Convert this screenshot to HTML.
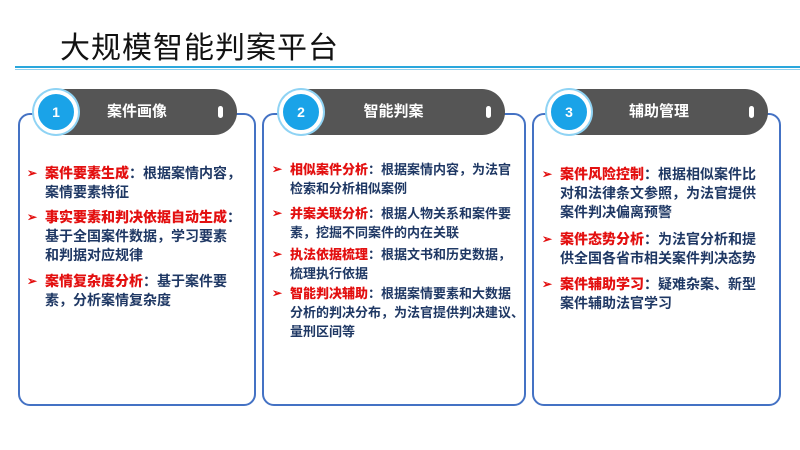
<!DOCTYPE html>
<html><head><meta charset="utf-8"><style>
body{margin:0;width:800px;height:450px;background:#fff;position:relative;overflow:hidden;font-family:"Liberation Sans","Noto Sans CJK SC",sans-serif}
.a{position:absolute}
.title{left:60px;top:23px;font-size:30px;color:#111;font-weight:400;letter-spacing:1px}
.panel{position:absolute;border:2.5px solid #4472c4;border-radius:12px;box-sizing:border-box}
.pill{position:absolute;height:46px;background:#555;border-radius:23px;color:#fff;font-weight:bold;font-size:15px;line-height:46px;text-align:center}
.pill i{position:absolute;right:14px;top:17px;width:5px;height:12px;background:#fff;border-radius:3px}
.circ{position:absolute;width:36px;height:36px;border-radius:50%;background:#1aa3e8;border:4px solid #fff;box-shadow:0 0 0 2px #8fd3f4;color:#fff;font-weight:bold;font-size:14px;line-height:36px;text-align:center}
.it{position:absolute;font-weight:bold;color:#1f3864;white-space:nowrap}
.it b{color:#e31010}
.it s{position:absolute;text-decoration:none;color:#e31010;font-size:12px;left:-18px;top:0}
</style></head><body>
<div class="a title">大规模智能判案平台</div>
<div class="a" style="left:15px;top:66px;width:785px;height:2px;background:#2aa7dc"></div>
<div class="a" style="left:15px;top:69px;width:785px;height:1px;background:#8fd0ee"></div>

<div class="panel" style="left:18px;top:113px;width:238px;height:293px"></div>
<div class="panel" style="left:262px;top:113px;width:264px;height:293px"></div>
<div class="panel" style="left:532px;top:113px;width:249px;height:293px"></div>

<div class="pill" style="left:37px;top:89px;width:200px">案件画像<i></i></div>
<div class="pill" style="left:282px;top:89px;width:223px">智能判案<i></i></div>
<div class="pill" style="left:550px;top:89px;width:218px">辅助管理<i></i></div>
<div class="circ" style="left:34px;top:90px">1</div>
<div class="circ" style="left:279px;top:90px">2</div>
<div class="circ" style="left:547px;top:90px">3</div>

<div class="it" style="left:45px;top:164px;font-size:14px;line-height:19px"><s style="top:0">➢</s><b>案件要素生成</b>：根据案情内容，<br>案情要素特征</div>
<div class="it" style="left:45px;top:208px;font-size:14px;line-height:19px"><s>➢</s><b>事实要素和判决依据自动生成</b>：<br>基于全国案件数据，学习要素<br>和判据对应规律</div>
<div class="it" style="left:45px;top:272px;font-size:14px;line-height:19px"><s>➢</s><b>案情复杂度分析</b>：基于案件要<br>素，分析案情复杂度</div>

<div class="it" style="left:290px;top:160px;font-size:13px;line-height:19px"><s>➢</s><b>相似案件分析</b>：根据案情内容，为法官<br>检索和分析相似案例</div>
<div class="it" style="left:290px;top:204px;font-size:13px;line-height:19px"><s>➢</s><b>并案关联分析</b>：根据人物关系和案件要<br>素，挖掘不同案件的内在关联</div>
<div class="it" style="left:290px;top:245px;font-size:13px;line-height:19px"><s>➢</s><b>执法依据梳理</b>：根据文书和历史数据，<br>梳理执行依据</div>
<div class="it" style="left:290px;top:284px;font-size:13px;line-height:19px"><s>➢</s><b>智能判决辅助</b>：根据案情要素和大数据<br>分析的判决分布，为法官提供判决建议、<br>量刑区间等</div>

<div class="it" style="left:560px;top:165px;font-size:14px;line-height:19px"><s>➢</s><b>案件风险控制</b>：根据相似案件比<br>对和法律条文参照，为法官提供<br>案件判决偏离预警</div>
<div class="it" style="left:560px;top:230px;font-size:14px;line-height:19px"><s>➢</s><b>案件态势分析</b>：为法官分析和提<br>供全国各省市相关案件判决态势</div>
<div class="it" style="left:560px;top:275px;font-size:14px;line-height:19px"><s>➢</s><b>案件辅助学习</b>：疑难杂案、新型<br>案件辅助法官学习</div>
</body></html>
